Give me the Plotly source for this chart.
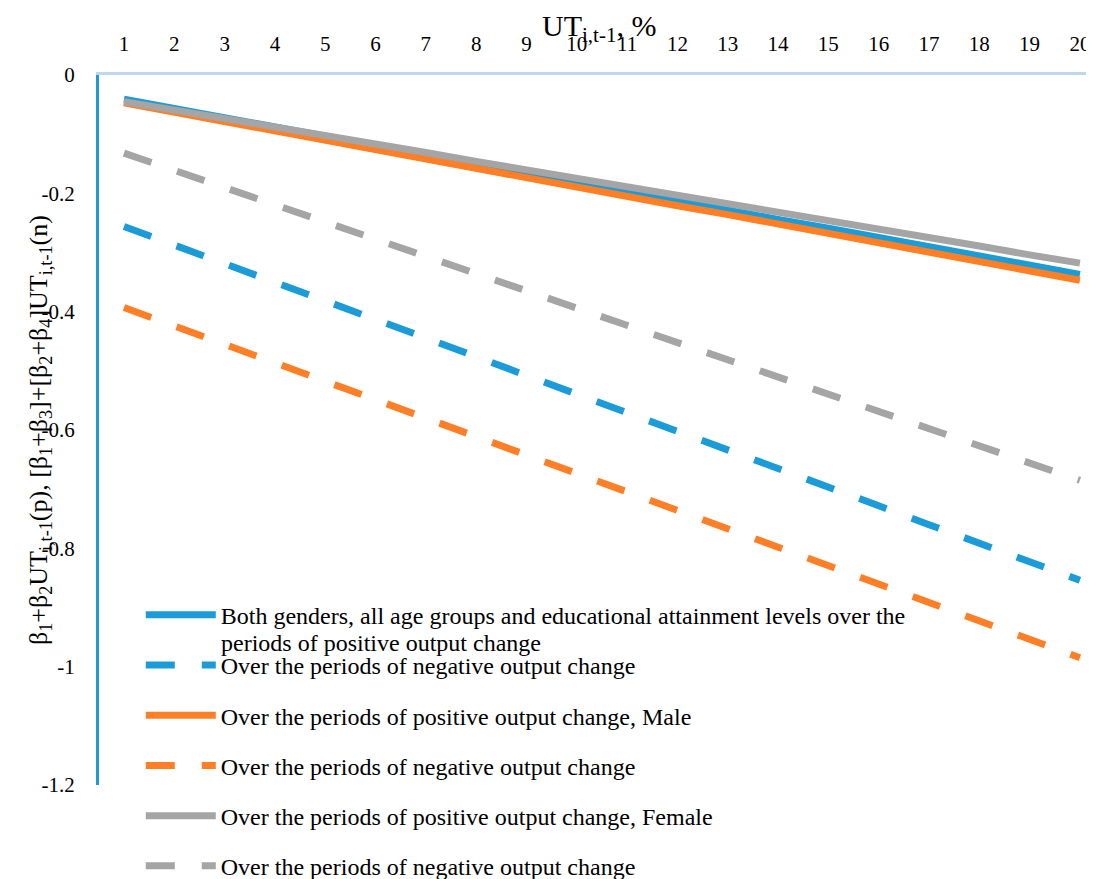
import plotly.graph_objects as go

ut = list(range(1, 21))

both_pos = [-0.041, -0.057, -0.072, -0.088, -0.103, -0.119, -0.134, -0.150, -0.166, -0.181,
            -0.197, -0.212, -0.228, -0.244, -0.259, -0.275, -0.290, -0.306, -0.321, -0.337]
both_neg = [-0.256, -0.287, -0.319, -0.350, -0.382, -0.413, -0.445, -0.476, -0.508, -0.539,
            -0.571, -0.602, -0.634, -0.665, -0.697, -0.728, -0.760, -0.791, -0.823, -0.854]
male_pos = [-0.047, -0.063, -0.079, -0.094, -0.110, -0.126, -0.142, -0.158, -0.173, -0.189,
            -0.205, -0.221, -0.236, -0.252, -0.268, -0.284, -0.300, -0.315, -0.331, -0.347]
male_neg = [-0.393, -0.424, -0.455, -0.486, -0.518, -0.549, -0.580, -0.611, -0.642, -0.673,
            -0.705, -0.736, -0.767, -0.798, -0.829, -0.860, -0.892, -0.923, -0.954, -0.985]
fem_pos = [-0.045, -0.059, -0.074, -0.088, -0.102, -0.117, -0.131, -0.146, -0.160, -0.174,
           -0.189, -0.203, -0.217, -0.232, -0.246, -0.261, -0.275, -0.289, -0.304, -0.318]
fem_neg = [-0.132, -0.161, -0.190, -0.219, -0.248, -0.278, -0.307, -0.336, -0.365, -0.394,
           -0.423, -0.452, -0.481, -0.510, -0.539, -0.569, -0.598, -0.627, -0.656, -0.685]

names = [
    "Both genders, all age groups and educational attainment levels over the",
    "Over the periods of negative output change",
    "Over the periods of positive output change, Male",
    "Over the periods of negative output change",
    "Over the periods of positive output change, Female",
    "Over the periods of negative output change",
]
name1_cont = "periods of positive output change"
series = [both_pos, both_neg, male_pos, male_neg, fem_pos, fem_neg]
colors = ["#1B9BD7", "#1B9BD7", "#FF7F27", "#FF7F27", "#A5A5A5", "#A5A5A5"]
dashes = ["solid", "29px,27px", "solid", "29px,27px", "solid", "29px,27px"]
yticks = [0, -0.2, -0.4, -0.6, -0.8, -1, -1.2]
yticktext = ["0", "-0.2", "-0.4", "-0.6", "-0.8", "-1", "-1.2"]

FONT = "Liberation Serif, Times New Roman, serif"

fig = go.Figure()
for i, (n, s, c, d) in enumerate(zip(names, series, colors, dashes)):
    fig.add_trace(go.Scatter(x=ut, y=s, mode="lines", name=n, legendgroup=f"g{i}",
                             line=dict(color=c, width=7, dash=d)))

fig.update_layout(
    width=1086, height=871,
    paper_bgcolor="white", plot_bgcolor="white",
    margin=dict(l=91, r=0, t=67, b=94, autoexpand=False),
    font=dict(family=FONT, size=21, color="black"),
    showlegend=True,
    legend=dict(x=0.042, y=0.2708, xanchor="left", yanchor="top",
                bgcolor="rgba(0,0,0,0)", font=dict(family=FONT, size=24),
                itemwidth=70, valign="top", tracegroupgap=16),
    xaxis=dict(side="top", range=[0.503, 20.28], tickvals=ut, ticktext=[str(v) for v in ut],
               showgrid=False, zeroline=False, showline=True, linecolor="#BDD7EE", linewidth=3,
               ticks="outside", ticklen=13, tickcolor="rgba(0,0,0,0)", automargin=False,
               tickfont=dict(family=FONT, size=21)),
    yaxis=dict(range=[-1.2, 0], tickvals=yticks, ticktext=yticktext,
               showgrid=False, zeroline=False, showline=True, linecolor="#1B9BD7", linewidth=3,
               ticks="outside", ticklen=17, tickcolor="rgba(0,0,0,0)", automargin=False,
               tickfont=dict(family=FONT, size=21)),
    annotations=[
        dict(text="UT<sub>i,t-1</sub>, %", xref="paper", yref="paper", x=0.503, y=1,
             xanchor="center", yanchor="middle", yshift=47, showarrow=False,
             font=dict(family=FONT, size=30)),
        dict(text="β<sub>1</sub>+β<sub>2</sub>UT<sub>i,t-1</sub>(p), [β<sub>1</sub>+β<sub>3</sub>]+[β<sub>2</sub>+β<sub>4</sub>]UT<sub>i,t-1</sub>(n)",
             xref="paper", yref="paper", x=0, y=0.5, xanchor="center", yanchor="middle",
             xshift=-59, textangle=-90, showarrow=False, font=dict(family=FONT, size=26)),
        dict(text=name1_cont, xref="paper", yref="paper", x=0.1206, y=0.2,
             xanchor="left", yanchor="middle", showarrow=False,
             font=dict(family=FONT, size=24)),
    ],
)

fig.write_html("out.html")
